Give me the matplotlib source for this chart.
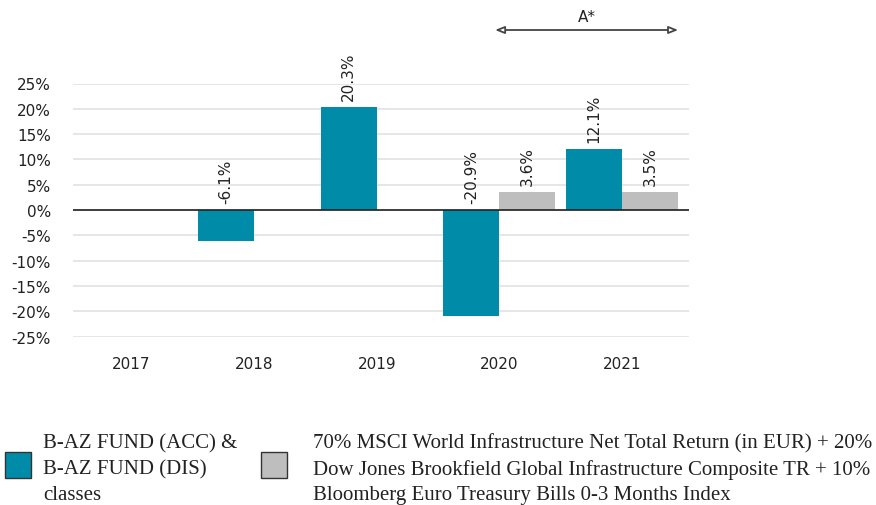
import matplotlib
matplotlib.use("Agg")
import matplotlib.pyplot as plt
from matplotlib.patches import Rectangle
import matplotlib.transforms as mtransforms

plt.rcParams["font.family"] = ["DejaVu Sans"]

# data
years = ["2017", "2018", "2019", "2020", "2021"]
fund = [None, -6.1, 20.3, -20.9, 12.1]
bench = [None, None, None, 3.6, 3.5]
yticks = [25, 20, 15, 10, 5, 0, -5, -10, -15, -20, -25]

fund_label = "B-AZ FUND (ACC) &\nB-AZ FUND (DIS)\nclasses"
bench_label = ("70% MSCI World Infrastructure Net Total Return (in EUR) + 20%\n"
               "Dow Jones Brookfield Global Infrastructure Composite TR + 10%\n"
               "Bloomberg Euro Treasury Bills 0-3 Months Index")

teal = "#008ca8"
grey = "#bebebe"
W, H = 876, 506

fig = plt.figure(figsize=(W / 100, H / 100), dpi=100)
ax = fig.add_axes([73 / W, 1 - 337.7 / H, (689 - 73) / W, (337.7 - 84.5) / H])

bw = 0.456
x = range(len(years))
for i in x:
    for val, off, col in ((fund[i], -bw / 2, teal), (bench[i], bw / 2, grey)):
        if val is None:
            continue
        ax.bar(i + off, val, width=bw, color=col, zorder=2)
        ax.text(i + off, max(val, 0) + 1.4, f"{val:.1f}%", rotation=90,
                ha="center", va="bottom", fontsize=11, color="#222222")

ax.set_xlim(-0.475, 4.545)
ax.set_ylim(-25, 25)
ax.set_yticks(yticks)
ax.set_yticklabels([f"{t}%" for t in yticks])
ax.set_xticks(list(x))
ax.set_xticklabels(years)
ax.tick_params(axis="both", length=0, labelsize=11, colors="#222222")
ax.tick_params(axis="y", pad=16)
ax.tick_params(axis="x", pad=14)
for s in ax.spines.values():
    s.set_visible(False)
ax.grid(axis="y", color="#e2e2e2", linewidth=1.2, zorder=0)
ax.axhline(0, color="#222222", linewidth=1.2, zorder=3)

# A* period arrow
trans = mtransforms.blended_transform_factory(ax.transData, fig.transFigure)
ya = 1 - 31 / H
ax.annotate("", xy=(4.456, ya), xytext=(2.965, ya), xycoords=trans, textcoords=trans,
            arrowprops=dict(arrowstyle="<|-|>,head_length=0.55,head_width=0.22",
                            edgecolor="#444444", facecolor="white", lw=1.3,
                            shrinkA=0, shrinkB=0),
            annotation_clip=False)
fig.text(587 / W, 1 - 17 / H, "A*", ha="center", va="center", fontsize=11, color="#222222")

# legend
for bx, col in ((5, teal), (261, grey)):
    fig.patches.append(Rectangle((bx / W, 1 - 479 / H), 26 / W, 26 / H,
                                 transform=fig.transFigure, facecolor=col,
                                 edgecolor="#333333", linewidth=1))
serif = ["Liberation Serif", "DejaVu Serif"]
fig.text(43 / W, 1 - 469.5 / H, fund_label, family=serif, fontsize=15,
         ha="left", va="center", linespacing=1.45, color="#222222")
fig.text(313 / W, 1 - 469.5 / H, bench_label, family=serif, fontsize=15,
         ha="left", va="center", linespacing=1.45, color="#222222")

fig.savefig("out.png", dpi=100)
